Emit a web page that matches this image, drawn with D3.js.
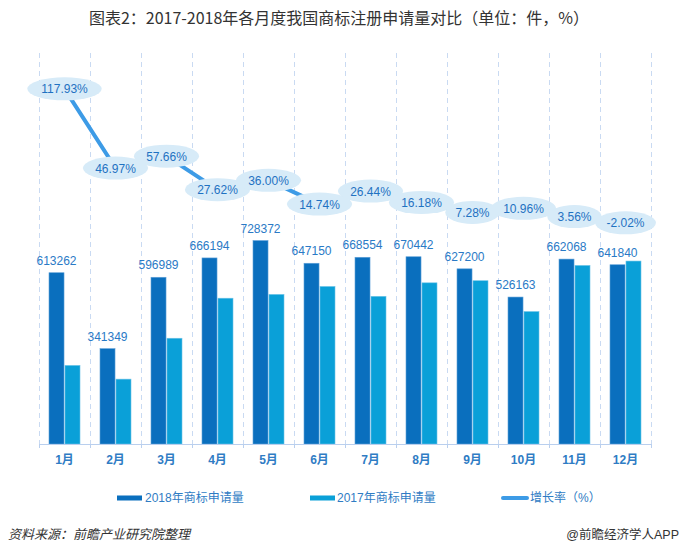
<!DOCTYPE html>
<html><head><meta charset="utf-8">
<script src="https://cdn.jsdelivr.net/npm/d3@7"></script>
<style>
html,body{margin:0;padding:0;background:#fff;}
svg{display:block;}
text{font-family:"Liberation Sans","Noto Sans CJK SC",Arial,sans-serif;}
</style></head>
<body>
<svg id="chart" width="680" height="555"></svg>
<script>
const months = ["1月","2月","3月","4月","5月","6月","7月","8月","9月","10月","11月","12月"];
const apps2018 = [613262,341349,596989,666194,728372,647150,668554,670442,627200,526163,662068,641840];
const apps2017 = [281402,232258,378656,522013,535568,564015,528752,577071,584638,474192,639309,655073];
const growth = [117.93,46.97,57.66,27.62,36.00,14.74,26.44,16.18,7.28,10.96,3.56,-2.02];
const seriesNames = ["2018年商标申请量","2017年商标申请量","增长率（%）"];
const yDomain = [0,1400000];
const y2Domain = [-200,150];

const c2018 = "#0a6fbe", c2017 = "#0aa0d8", cLine = "#3d9be6", cEll = "#d7ebf8";
const cLabel = "#2a7ac6";

const svg = d3.select("#chart");
const plotTop = 53, plotBottom = 444, plotLeft = 39, plotRight = 651;

const x = d3.scaleBand().domain(months).range([plotLeft,plotRight]).padding(0);
const x1 = d3.scaleBand().domain(["a","b"]).range([10,41]).paddingInner(0.06);
const y = d3.scaleLinear().domain(yDomain).range([plotBottom,plotTop]);
const y2 = d3.scaleLinear().domain(y2Domain).range([plotBottom,plotTop]);

// title
svg.append("text").attr("x",339).attr("y",24).attr("text-anchor","middle")
  .attr("font-size",16).attr("fill","#333")
  .style("font-family","'Noto Sans CJK SC','Liberation Sans',sans-serif")
  .text("图表2：2017-2018年各月度我国商标注册申请量对比（单位：件，%）");

// gridlines
const bounds = months.map(m=>x(m)).concat([plotRight]);
svg.append("g").selectAll("line").data(bounds).join("line")
  .attr("x1",d=>d+0.5).attr("x2",d=>d+0.5).attr("y1",plotTop).attr("y2",plotBottom)
  .attr("stroke","#c9daf2").attr("stroke-width",1).attr("stroke-dasharray","5,4");

// bars
const g = svg.append("g");
g.selectAll(".b18").data(months).join("rect")
  .attr("x",(d)=>x(d)+x1("a")).attr("width",x1.bandwidth())
  .attr("y",(d,i)=>y(apps2018[i])).attr("height",(d,i)=>plotBottom-y(apps2018[i]))
  .attr("fill",c2018).attr("stroke","#5fa0d8").attr("stroke-width",0.6);
g.selectAll(".b17").data(months).join("rect")
  .attr("x",(d)=>x(d)+x1("b")).attr("width",x1.bandwidth())
  .attr("y",(d,i)=>y(apps2017[i])).attr("height",(d,i)=>plotBottom-y(apps2017[i]))
  .attr("fill",c2017).attr("stroke","#6cc3e8").attr("stroke-width",0.6);

// bar labels
g.selectAll(".bl").data(months).join("text")
  .attr("x",d=>x(d)+x1("a")+x1.bandwidth()/2).attr("y",(d,i)=>y(apps2018[i])-8)
  .attr("text-anchor","middle").attr("font-size",12).attr("fill",cLabel)
  .text((d,i)=>apps2018[i]);

// axis
svg.append("line").attr("x1",plotLeft).attr("x2",plotRight).attr("y1",plotBottom+0.5).attr("y2",plotBottom+0.5)
  .attr("stroke","#b9cfee").attr("stroke-width",1);
svg.append("g").selectAll("line").data(bounds).join("line")
  .attr("x1",d=>d+0.5).attr("x2",d=>d+0.5).attr("y1",plotBottom).attr("y2",plotBottom+4)
  .attr("stroke","#b9cfee");
svg.append("g").selectAll("text").data(months).join("text")
  .attr("x",d=>x(d)+x.bandwidth()/2).attr("y",464).attr("text-anchor","middle")
  .attr("font-size",12).attr("font-weight","bold").attr("fill","#2f7cc4").text(d=>d);

// growth line
const cx = m=>x(m)+x.bandwidth()/2;
svg.append("path").datum(months)
  .attr("d",d3.line().x(d=>cx(d)).y((d,i)=>y2(growth[i])))
  .attr("fill","none").attr("stroke",cLine).attr("stroke-width",4);

const lg = svg.append("g");
months.forEach((m,i)=>{
  const gg = lg.append("g");
  const e = gg.append("ellipse").attr("cx",cx(m)).attr("cy",y2(growth[i])).attr("ry",11.5).attr("fill",cEll);
  const t = gg.append("text").attr("x",cx(m)).attr("y",y2(growth[i])+4.5).attr("text-anchor","middle")
    .attr("font-size",12).attr("fill","#1f72c2").text(growth[i].toFixed(2)+"%");
  const w = t.node().getComputedTextLength();
  e.attr("rx",w*0.8);
});

// legend
const leg = svg.append("g").attr("font-size",12);
leg.append("rect").attr("x",117).attr("y",495.5).attr("width",25).attr("height",5).attr("fill",c2018);
leg.append("text").attr("x",145).attr("y",502).attr("fill","#2f7cc4").text(seriesNames[0]);
leg.append("rect").attr("x",310).attr("y",495.5).attr("width",25).attr("height",5).attr("fill",c2017);
leg.append("text").attr("x",337).attr("y",502).attr("fill","#2f7cc4").text(seriesNames[1]);
leg.append("line").attr("x1",503).attr("x2",527).attr("y1",498).attr("y2",498)
  .attr("stroke",cLine).attr("stroke-width",4).attr("stroke-linecap","round");
leg.append("text").attr("x",530).attr("y",502).attr("fill","#2f7cc4").text(seriesNames[2]);

// footer
svg.append("text").attr("x",8).attr("y",539).attr("font-size",13).attr("font-style","italic")
  .attr("fill","#333").style("font-family","'Noto Sans CJK SC',sans-serif").text("资料来源：前瞻产业研究院整理");
svg.append("text").attr("x",679).attr("y",539).attr("font-size",12.5).attr("text-anchor","end")
  .attr("fill","#333").text("@前瞻经济学人APP");
</script>
</body></html>
